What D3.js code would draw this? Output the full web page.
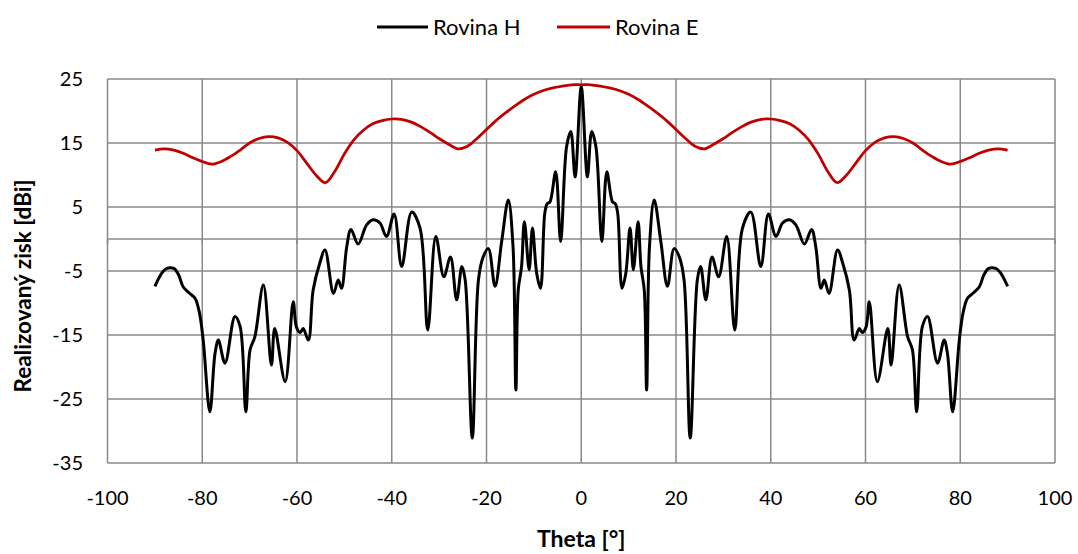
<!DOCTYPE html>
<html>
<head>
<meta charset="utf-8">
<script src="https://cdn.jsdelivr.net/npm/d3@7"></script>
<style>
  html, body { margin: 0; padding: 0; background: #ffffff; }
  svg { display: block; font-family: Lato, "Open Sans", sans-serif; }
</style>
</head>
<body>
<svg id="chart" width="1078" height="554"></svg>
<script>
// ---- Data ----
const seriesNames = ["Rovina H", "Rovina E"];
const xTicks = [-100, -80, -60, -40, -20, 0, 20, 40, 60, 80, 100];
const yTicks = [25, 15, 5, -5, -15, -25, -35];

// Rovina H (black)
const thetaH = [
  -90, -88.5, -87.5, -86, -85, -84, -82.5, -81.5, -80.6, -79.8, -78.4, -77.3, -76.6, -75.2,
  -73.1, -72.0, -70.8, -69.9, -68.9, -67.1, -65.4, -64.7, -62.5, -60.8, -60.1, -59.3, -58.7,
  -57.6, -56.6, -55.2, -54.1, -52.3, -51.3, -50.6, -49.5, -48.6, -47.1, -45.3, -43.9, -42.5,
  -41.1, -39.5, -37.9, -35.8, -34.0, -32.4, -30.7, -29.0, -27.6, -26.3, -25.2, -24.5, -23.0,
  -21.7, -20.7, -19.6, -18.2, -16.8, -15.4, -14.4, -13.8, -13.3, -12.6, -12.0, -11.0, -10.3,
  -9.4, -8.6, -7.7, -7.2, -6.6, -5.4, -4.35, -3.1, -2.2, -1.3, 0,
  1.3, 2.2, 3.1, 4.35, 5.4, 6.6, 7.2, 7.7, 8.6, 9.4, 10.3, 11.0, 12.0, 12.6, 13.3, 13.8,
  14.4, 15.4, 16.8, 18.2, 19.6, 20.7, 21.7, 23.0, 24.5, 25.2, 26.3, 27.6, 29.0, 30.7, 32.4,
  34.0, 35.8, 37.9, 39.5, 41.1, 42.5, 43.9, 45.3, 47.1, 48.6, 49.5, 50.6, 51.3, 52.3, 54.1,
  55.2, 56.6, 57.6, 58.7, 59.3, 60.1, 60.8, 62.5, 64.7, 65.4, 67.1, 68.9, 69.9, 70.8, 72.0,
  73.1, 75.2, 76.6, 77.3, 78.4, 79.8, 80.6, 81.5, 82.5, 84, 85, 86, 87.5, 88.5, 90
];
const gainH = [
  -7.4, -5.3, -4.6, -4.6, -5.6, -7.5, -8.6, -9.3, -11.5, -15.8, -27.0, -17.9, -15.8, -19.4,
  -12.1, -13.7, -27.0, -17.3, -15.3, -7.2, -19.7, -14.0, -22.3, -9.8, -13.8, -14.6, -14.0,
  -15.8, -8.0, -3.8, -1.7, -8.5, -6.4, -7.7, -1.2, 1.5, -0.8, 2.2, 3.0, 2.5,
  0.4, 3.9, -4.3, 4.2, 1.6, -14.2, 0.4, -5.9, -2.8, -9.5, -4.3, -6.4, -31.1,
  -6.4, -2.8, -1.5, -7.4, -0.4, 6.1, -1.2, -23.6, -8.0, -4.3, 2.7, -4.8, 1.7,
  -5.4, -7.7, 4.0, 5.5, 5.8, 10.5, -0.4, 14.4, 16.8, 9.7, 23.8,
  9.7, 16.8, 14.4, -0.4, 10.5, 5.8, 5.5, 4.0, -7.7, -5.4, 1.7, -4.8, 2.7, -4.3, -8.0, -23.6,
  -1.2, 6.1, -0.4, -7.4, -1.5, -2.8, -6.4, -31.1, -6.4, -4.3, -9.5, -2.8, -5.9, 0.4, -14.2,
  1.6, 4.2, -4.3, 3.9, 0.4, 2.5, 3.0, 2.2, -0.8, 1.5, -1.2, -7.7, -6.4, -8.5, -1.7,
  -3.8, -8.0, -15.8, -14.0, -14.6, -13.8, -9.8, -22.3, -14.0, -19.7, -7.2, -15.3, -17.3, -27.0, -13.7,
  -12.1, -19.4, -15.8, -17.9, -27.0, -15.8, -11.5, -9.3, -8.6, -7.5, -5.6, -4.6, -4.6, -5.3, -7.4
];

// Rovina E (red)
const thetaE = [
  -90, -88, -86, -84, -82, -80, -78, -76, -74, -72, -70, -68, -66, -64, -62, -60, -58, -56, -54,
  -52, -50, -48, -46, -44, -42, -40, -38, -36, -34, -32, -30, -28, -26, -24, -22, -20, -18, -16,
  -14, -12, -10, -8, -6, -4, -2, 0, 2, 4, 6, 8, 10, 12, 14, 16, 18, 20, 22, 24, 26, 28, 30, 32,
  34, 36, 38, 40, 42, 44, 46, 48, 50, 52, 54, 56, 58, 60, 62, 64, 66, 68, 70, 72, 74, 76, 78,
  80, 82, 84, 86, 88, 90
];
const gainE = [
  13.9, 14.1, 13.9, 13.4, 12.7, 12.1, 11.7, 12.1, 12.9, 13.9, 15.0, 15.7, 16.0, 15.8, 15.1, 13.8, 11.9, 10.0, 8.8,
  10.6, 13.3, 15.5, 17.0, 18.0, 18.5, 18.75, 18.7, 18.3, 17.6, 16.7, 15.7, 14.8, 14.1, 14.5, 15.7, 17.1, 18.5, 19.7,
  20.8, 21.8, 22.6, 23.2, 23.6, 23.9, 24.1, 24.1, 24.1, 23.9, 23.6, 23.2, 22.6, 21.8, 20.8, 19.7, 18.5, 17.1, 15.7, 14.5,
  14.1, 14.8, 15.7, 16.7, 17.6, 18.3, 18.7, 18.75, 18.5, 18.0, 17.0, 15.5, 13.3, 10.6, 8.8, 10.0, 11.9, 13.8, 15.1,
  15.8, 16.0, 15.7, 15.0, 13.9, 12.9, 12.1, 11.7, 12.1, 12.7, 13.4, 13.9, 14.1, 13.9
];

const colors = ["#000000", "#C00000"];

// ---- Layout ----
const svg = d3.select("#chart");
const mLeft = 107.5, mRight = 1055, mTop = 79, mBottom = 463;
const x = d3.scaleLinear().domain([-100, 100]).range([mLeft, mRight]);
const y = d3.scaleLinear().domain([-35, 25]).range([mBottom, mTop]);
const gridColor = "#898989";

// Horizontal gridlines
svg.append("g").selectAll("line").data(yTicks).join("line")
  .attr("x1", mLeft).attr("x2", mRight)
  .attr("y1", d => y(d)).attr("y2", d => y(d))
  .attr("stroke", gridColor).attr("stroke-width", 1.5);

// Vertical gridlines
svg.append("g").selectAll("line").data(xTicks).join("line")
  .attr("x1", d => x(d)).attr("x2", d => x(d))
  .attr("y1", mTop).attr("y2", mBottom)
  .attr("stroke", gridColor).attr("stroke-width", 1.5);

// Horizontal axis line at 0 with tick marks
svg.append("line")
  .attr("x1", mLeft).attr("x2", mRight)
  .attr("y1", y(0)).attr("y2", y(0))
  .attr("stroke", gridColor).attr("stroke-width", 1.5);
svg.append("g").selectAll("line").data(xTicks).join("line")
  .attr("x1", d => x(d)).attr("x2", d => x(d))
  .attr("y1", y(0)).attr("y2", y(0) + 5)
  .attr("stroke", gridColor).attr("stroke-width", 1.5);

// Tick labels
svg.append("g").selectAll("text").data(yTicks).join("text")
  .attr("x", 83).attr("y", d => y(d))
  .attr("dy", "0.35em")
  .attr("text-anchor", "end")
  .attr("font-size", 20).attr("fill", "#000")
  .text(d => d);

svg.append("g").selectAll("text").data(xTicks).join("text")
  .attr("x", d => x(d)).attr("y", 498)
  .attr("dy", "0.35em")
  .attr("text-anchor", "middle")
  .attr("font-size", 20).attr("fill", "#000")
  .text(d => d);

// Axis titles
svg.append("text")
  .attr("x", x(0)).attr("y", 539).attr("dy", "0.35em")
  .attr("text-anchor", "middle")
  .attr("font-size", 23).attr("font-weight", "bold")
  .text("Theta [°]");

svg.append("text")
  .attr("transform", `translate(23,286) rotate(-90)`)
  .attr("dy", "0.35em")
  .attr("text-anchor", "middle")
  .attr("font-size", 22.5).attr("font-weight", "bold")
  .text("Realizovaný zisk [dBi]");

// Lines
const lineGen = d3.line()
  .x(d => x(d[0])).y(d => y(d[1]))
  .curve(d3.curveCatmullRom.alpha(0.5));

const dataH = thetaH.map((t, i) => [t, gainH[i]]);
const dataE = thetaE.map((t, i) => [t, gainE[i]]);

svg.append("path").datum(dataH)
  .attr("d", lineGen)
  .attr("fill", "none").attr("stroke", colors[0])
  .attr("stroke-width", 3).attr("stroke-linejoin", "round");

svg.append("path").datum(dataE)
  .attr("d", lineGen)
  .attr("fill", "none").attr("stroke", colors[1])
  .attr("stroke-width", 2.75).attr("stroke-linejoin", "round");

// Legend
const legendItems = [
  { name: seriesNames[0], color: colors[0], x1: 377, x2: 428, tx: 433 },
  { name: seriesNames[1], color: colors[1], x1: 557, x2: 610, tx: 615 }
];
const lg = svg.append("g");
legendItems.forEach(it => {
  lg.append("line")
    .attr("x1", it.x1).attr("x2", it.x2).attr("y1", 27).attr("y2", 27)
    .attr("stroke", it.color).attr("stroke-width", 3);
  lg.append("text")
    .attr("x", it.tx).attr("y", 27).attr("dy", "0.35em")
    .attr("font-size", 22).attr("fill", "#000")
    .text(it.name);
});
</script>
</body>
</html>
